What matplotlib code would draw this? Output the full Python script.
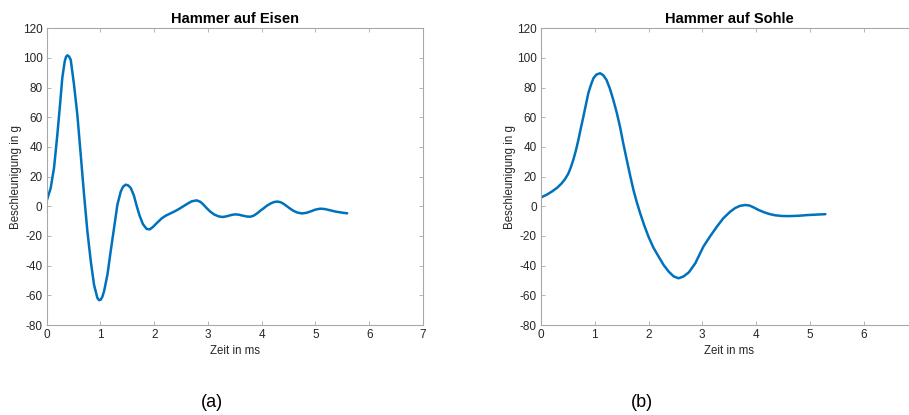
import matplotlib
matplotlib.use("Agg")
import matplotlib.pyplot as plt

plt.rcParams['font.family'] = ['Liberation Sans', 'DejaVu Sans']
plt.rcParams['axes.unicode_minus'] = False

# Hammer auf Eisen (time in ms, acceleration in g)
t_eisen = [0.000, 0.074, 0.136, 0.198, 0.248, 0.290, 0.335, 0.360, 0.384, 0.415,
           0.447, 0.508, 0.570, 0.633, 0.695, 0.757, 0.820, 0.880, 0.943, 0.975,
           1.006, 1.035, 1.067, 1.130, 1.190, 1.253, 1.315, 1.378, 1.420, 1.470,
           1.520, 1.564, 1.620, 1.676, 1.730, 1.790, 1.860, 1.920, 1.980, 2.050,
           2.140, 2.220, 2.300, 2.380, 2.460, 2.540, 2.620, 2.700, 2.790, 2.860,
           2.920, 2.980, 3.050, 3.120, 3.200, 3.280, 3.360, 3.440, 3.510, 3.580,
           3.660, 3.730, 3.790, 3.850, 3.920, 3.980, 4.040, 4.100, 4.170, 4.230,
           4.290, 4.350, 4.410, 4.470, 4.530, 4.590, 4.660, 4.750, 4.830, 4.920,
           5.000, 5.090, 5.170, 5.240, 5.310, 5.380, 5.450, 5.520, 5.590]
a_eisen = [3.8, 12.3, 25.8, 48.3, 68.5, 86.5, 97.7, 100.8, 101.8, 101.0,
           98.8, 82.0, 61.7, 34.8, 7.8, -16.9, -37.0, -52.8, -61.8, -63.3,
           -62.9, -61.0, -57.3, -46.0, -30.3, -14.6, 1.1, 10.0, 13.2, 14.6,
           14.0, 12.3, 7.5, 0.0, -6.5, -12.0, -15.3, -15.5, -13.8, -11.2,
           -8.1, -6.2, -4.8, -3.4, -1.8, 0.0, 1.8, 3.4, 4.0, 3.0,
           1.0, -1.4, -3.8, -5.6, -6.8, -7.2, -6.6, -5.8, -5.4, -5.7,
           -6.4, -6.9, -7.0, -6.3, -4.6, -2.8, -1.2, 0.5, 2.0, 2.9,
           3.2, 2.8, 1.6, 0.0, -1.6, -3.0, -4.2, -4.8, -4.4, -3.3,
           -2.2, -1.6, -1.8, -2.4, -3.0, -3.6, -4.0, -4.4, -4.7]

# Hammer auf Sohle
t_sohle = [0.000, 0.100, 0.200, 0.300, 0.385, 0.450, 0.510, 0.555, 0.600, 0.650,
           0.695, 0.740, 0.788, 0.835, 0.880, 0.930, 0.975, 1.030, 1.100, 1.160,
           1.220, 1.280, 1.346, 1.410, 1.470, 1.530, 1.596, 1.660, 1.720, 1.780,
           1.845, 1.920, 2.000, 2.090, 2.190, 2.280, 2.375, 2.470, 2.560, 2.650,
           2.750, 2.870, 3.020, 3.150, 3.270, 3.390, 3.520, 3.610, 3.700, 3.800,
           3.880, 3.960, 4.050, 4.150, 4.250, 4.350, 4.470, 4.580, 4.700, 4.820,
           4.950, 5.120, 5.290]
a_sohle = [6.0, 7.7, 9.9, 12.5, 15.5, 18.5, 22.2, 26.3, 31.2, 37.8,
           44.7, 52.5, 60.4, 68.5, 76.2, 82.0, 86.3, 88.8, 89.7, 88.3,
           85.1, 79.5, 71.6, 63.0, 53.6, 42.5, 31.2, 20.5, 11.0, 3.0,
           -4.7, -12.8, -20.5, -27.8, -34.0, -39.5, -44.0, -47.3, -48.5, -47.3,
           -44.5, -38.4, -27.2, -20.0, -13.8, -8.1, -3.6, -1.2, 0.3, 0.9,
           0.5, -0.8, -2.5, -4.0, -5.2, -6.0, -6.5, -6.6, -6.5, -6.3,
           -5.9, -5.6, -5.3]

titles = ["Hammer auf Eisen", "Hammer auf Sohle"]
panel_labels = ["(a)", "(b)"]
x_ticks_list = [[0, 1, 2, 3, 4, 5, 6, 7], [0, 1, 2, 3, 4, 5, 6]]
y_ticks = [-80, -60, -40, -20, 0, 20, 40, 60, 80, 100, 120]

W, H = 909, 415
fig = plt.figure(figsize=(W / 100, H / 100), dpi=100)

line_color = '#0072BD'
spine_color = '#a8a8a8'
text_color = '#262626'

positions = [(46.7, 28.3, 376.3, 296.7), (541.0, 28.3, 376.3, 296.7)]
label_x = [212, 642]
series = [(t_eisen, a_eisen), (t_sohle, a_sohle)]

for i, (pos, (t, a)) in enumerate(zip(positions, series)):
    l, top, w, h = pos
    ax = fig.add_axes([l / W, 1 - (top + h) / H, w / W, h / H])
    ax.plot(t, a, color=line_color, lw=1.8, solid_joinstyle='round',
            solid_capstyle='round')
    ax.set_xlim(0, 7)
    ax.set_ylim(-80, 120)
    ax.set_xticks(x_ticks_list[i])
    ax.set_yticks(y_ticks)
    ax.tick_params(direction='in', top=True, right=True, length=3, width=0.6,
                   colors=spine_color, labelcolor=text_color, labelsize=8.5, pad=3)
    for s in ax.spines.values():
        s.set_color(spine_color)
        s.set_linewidth(0.8)
    ax.set_title(titles[i], fontsize=10.5, fontweight='bold', color='black', pad=4)
    ax.set_xlabel("Zeit in ms", fontsize=8.3, color=text_color, labelpad=3)
    ax.set_ylabel("Beschleunigung in g", fontsize=8.3, color=text_color)
    ax.yaxis.set_label_coords(-0.066, 0.5)
    fig.text(label_x[i] / W, 1 - 402 / H, panel_labels[i], fontsize=13,
             ha='center', va='center', color='black')

fig.savefig("out.png", dpi=100)
